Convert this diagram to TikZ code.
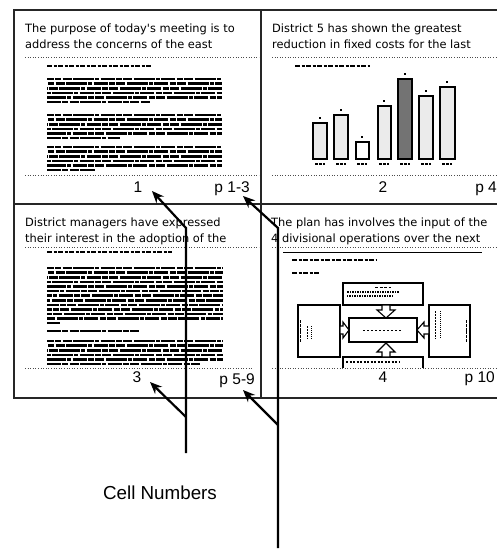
\documentclass[tikz,border=0pt]{standalone}
\usepackage{fontspec}
\setmainfont{Liberation Sans}
\newfontfamily\titlefont{DejaVu Sans}
\usetikzlibrary{arrows.meta}

% n greeked text lines from x=#1 to x=#2, first line at y=#3
\newcommand{\greekpar}[4]{%
  \foreach \i in {1,...,#4}{%
    \draw[greek, dash phase=\i*7pt] (#1,{#3+4.6*(\i-1)}) -- (#2,{#3+4.6*(\i-1)});}}

\begin{document}
\begin{tikzpicture}[x=1pt, y=-1pt,
  >={Stealth[length=12pt, width=10pt]},
  frame/.style={line width=1.2pt, draw=black!85},
  sep/.style={dotted, line width=0.6pt, draw=black!70},
  heading/.style={font=\titlefont\fontsize{11.4}{13}\selectfont, anchor=base west, inner sep=0pt},
  cellno/.style={font=\fontsize{15.5}{18}\selectfont, anchor=base, inner sep=0pt},
  pages/.style={cellno, anchor=base east},
  greek/.style={line width=2.6pt, dash pattern=on 14pt off 1.4pt on 6pt off 1.2pt on 9pt off 1.6pt on 21pt off 1.2pt on 4pt off 1.3pt},
  tiny/.style={line width=2.2pt, dash pattern=on 5pt off 1.5pt on 3pt off 1.5pt},
  bar/.style={draw, line width=1.3pt, fill=black!8},
  box/.style={draw, line width=1.1pt, fill=white, inner sep=0pt},
  blk/.style={draw, line width=1.1pt, fill=white},
  callout/.style={->, line width=2.2pt},
]
\useasboundingbox (0,0) rectangle (497,552);

% cell frame
\draw[frame] (500,10) -- (14,10) -- (14,398) -- (500,398);
\draw[frame] (261,10) -- (261,398);
\draw[frame] (14,204) -- (500,204);

% cell 1
\node[heading] (t1a) at (25,32) {The purpose of today's meeting is to};
\node[heading] (t1b) at (25,48) {address the concerns of the east};
\draw[sep] (25,57) -- (259,57);
\draw[tiny] (47,66) -- (152,66);
\greekpar{47}{222}{79}{5}
\draw[greek] (47,102) -- (150,102);
\greekpar{47}{222}{115}{5}
\draw[greek] (47,138) -- (120,138);
\greekpar{47}{222}{147}{5}
\draw[greek] (47,170) -- (95,170);
\draw[sep] (25,175) -- (259,175);
\node[cellno] (no1) at (138,192) {1};
\node[pages] (pg1) at (250,192) {p 1-3};

% cell 2
\node[heading] (t2a) at (272,32) {District 5 has shown the greatest};
\node[heading] (t2b) at (272,48) {reduction in fixed costs for the last};
\draw[sep] (272,57) -- (497,57);
\draw[tiny] (295,66) -- (370,66);
\draw[bar] (313,159) rectangle (327,123);
\draw[bar] (334,159) rectangle (348,115);
\draw[bar, fill=white] (356,159) rectangle (369,142);
\draw[bar] (378,159) rectangle (391,106);
\draw[bar, fill=black!55] (398,159) rectangle (412,79);
\draw[bar] (419,159) rectangle (433,96);
\draw[bar] (440,159) rectangle (455,87);
\foreach \x/\y in {320/118, 341/110, 362/137, 384/101, 405/74, 426/91, 447/82}
  \fill (\x-0.7,\y-1.5) rectangle (\x+0.7,\y+1);
\foreach \x in {320, 341, 362, 384, 405, 426, 447}
  \draw[line width=2pt, dash pattern=on 3pt off 1pt] (\x-5,164) -- (\x+5,164);
\draw[sep] (272,175) -- (497,175);
\node[cellno] (no2) at (383,192) {2};
\node[pages] (pg2) at (497,192) {p 4};

% cell 3
\node[heading] (t3a) at (25,226) {District managers have expressed};
\node[heading] (t3b) at (25,242) {their interest in the adoption of the};
\draw[sep] (25,247) -- (259,247);
\draw[tiny] (47,252) -- (172,252);
\greekpar{47}{223}{268}{12}
\draw[greek] (47,323) -- (60,323);
\draw[greek, line width=1.8pt] (47,331) -- (140,331);
\greekpar{47}{223}{341}{5}
\draw[greek] (47,364) -- (200,364);
\draw[sep] (25,368) -- (252,368);
\node[cellno] (no3) at (137,382) {3};
\node[pages] (pg3) at (255,384) {p 5-9};

% cell 4
\node[heading] (t4a) at (271,226) {The plan has involves the input of the};
\node[heading] (t4b) at (271,242) {4 divisional operations over the next};
\draw[sep] (272,247) -- (497,247);
\draw[line width=1pt] (283,252) -- (482,252);
\draw[tiny] (292,260) -- (377,260);
\draw[tiny, line width=1.8pt] (292,273) -- (320,273);
\node[box, minimum width=80pt, minimum height=22pt] (top) at (383,294) {};
\node[box, minimum width=68pt, minimum height=24pt] (ctr) at (383,330) {};
\node[box, minimum width=42pt, minimum height=52pt] (lft) at (319,331) {};
\node[box, minimum width=41pt, minimum height=52pt] (rgt) at (449.5,331) {};
\draw[line width=1.1pt] (343,368) -- (343,357) -- (423,357) -- (423,368);
\draw[blk] (382,305) -- (390,305) -- (390,310) -- (395,310) -- (386,318)
  -- (377,310) -- (382,310) -- cycle;
\draw[blk] (382,357) -- (390,357) -- (390,352) -- (395,352) -- (386,343)
  -- (377,352) -- (382,352) -- cycle;
\draw[blk] (340,326) -- (343,326) -- (343,322) -- (349,330) -- (343,338)
  -- (343,334) -- (340,334) -- cycle;
\draw[blk] (429,326) -- (424,326) -- (424,322) -- (417,330) -- (424,338)
  -- (424,334) -- (429,334) -- cycle;
\draw[line width=1.6pt, dash pattern=on 3pt off 1.5pt] (top.north)+(-8,5) -- +(8,5);
\draw[line width=1.4pt, dash pattern=on 2pt off 1pt on 1pt off 1pt] (top.west)+(5,-2) -- +(58,-2);
\draw[line width=1.4pt, dash pattern=on 1pt off 1pt on 2pt off 1pt] (top.west)+(5,2) -- +(52,2);
\draw[line width=1pt, dash pattern=on 2pt off 2pt] (ctr.west)+(15,0) -- +(53,0);
\draw[line width=1.6pt, dash pattern=on 3pt off 0.8pt] (lft.west)+(3,-11) -- +(3,11);
\draw[line width=1.4pt, dash pattern=on 2pt off 1pt] (lft.west)+(10,-5) -- +(10,8);
\draw[line width=1.4pt, dash pattern=on 1pt off 1pt] (lft.west)+(14,-5) -- +(14,8);
\draw[line width=1.6pt, dash pattern=on 3pt off 0.8pt] (rgt.east)+(-4,-11) -- +(-4,11);
\draw[line width=1.4pt, dash pattern=on 2pt off 1pt] (rgt.west)+(7,-20) -- +(7,8);
\draw[line width=1.4pt, dash pattern=on 1pt off 1pt] (rgt.west)+(12,-20) -- +(12,8);
\draw[line width=1.4pt, dash pattern=on 2pt off 1.5pt] (346,362) -- (400,362);
\draw[sep] (272,368) -- (497,368);
\node[cellno] (no4) at (383,382) {4};
\node[pages] (pg4) at (495,382) {p 10};

% callouts
\node[font=\fontsize{18.8}{22}\selectfont, inner sep=0pt] (lbl) at (160,493) {Cell Numbers};
\coordinate (aTop) at (186,228);
\coordinate (aMid) at (186,417);
\coordinate (aEnd) at (186,453);
\coordinate (bTop) at (278,228);
\coordinate (bMid) at (278,425);
\coordinate (bEnd) at (278,548);
\coordinate (tip1) at (152,191);
\coordinate (tip3) at (150,382);
\coordinate (tipA) at (243,196);
\coordinate (tipB) at (243,390);
\draw[callout] (aEnd) -- (aTop) -- (tip1);
\draw[callout] (aMid) -- (tip3);
\draw[callout] (bEnd) -- (bTop) -- (tipA);
\draw[callout] (bMid) -- (tipB);
\end{tikzpicture}
\end{document}
